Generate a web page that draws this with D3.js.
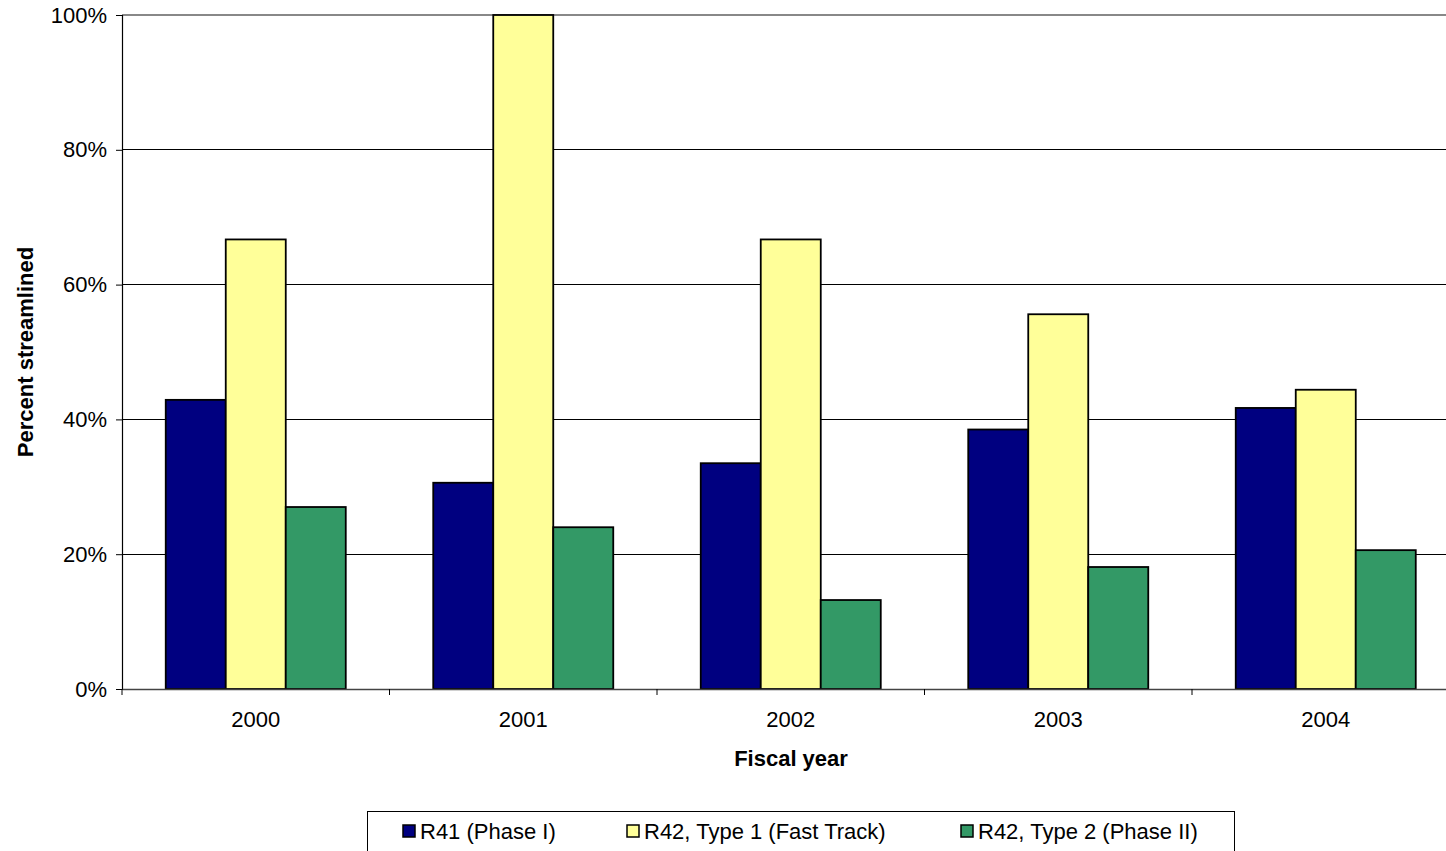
<!DOCTYPE html>
<html><head><meta charset="utf-8">
<script src="https://cdn.jsdelivr.net/npm/d3@7"></script>
<style>
html,body{margin:0;padding:0;background:#fff;overflow:hidden}
text{font-family:"Liberation Sans",Arial,sans-serif}
</style></head>
<body>
<svg id="chart" width="1446" height="851"></svg>
<script>
const years = ["2000","2001","2002","2003","2004"];
const seriesNames = ["R41 (Phase I)","R42, Type 1 (Fast Track)","R42, Type 2 (Phase II)"];
const seriesColors = ["#000080","#FFFF99","#339966"];
const r41 = [42.9, 30.6, 33.5, 38.5, 41.7];
const r42Type1 = [66.7, 100, 66.7, 55.6, 44.4];
const r42Type2 = [27.0, 24.0, 13.2, 18.1, 20.6];
const yTicks = [0,20,40,60,80,100];
const seriesValues = [r41, r42Type1, r42Type2];

(function(){
const svg = d3.select("#chart");
const FS = 22;
const mLeft = 122, mTop = 15, mBottom = 689, step = 267.5;
const x = d3.scaleBand().domain(years).range([mLeft, mLeft + step*years.length]).padding(0);
const xs = d3.scaleBand().domain(d3.range(3)).range([0, x.bandwidth()]).paddingInner(0).paddingOuter(0.729);
const y = d3.scaleLinear().domain([0,100]).range([mBottom, mTop]);

// gridlines
svg.append("g").selectAll("line").data(yTicks.filter(t=>t>0)).join("line")
  .attr("x1", mLeft).attr("x2", mLeft + step*5)
  .attr("y1", d=>y(d)).attr("y2", d=>y(d))
  .attr("stroke", d=> d===100 ? "#888" : "#000").attr("stroke-width", d=>d===100?1.5:1)
  .attr("shape-rendering","crispEdges");

// bars
const groups = svg.append("g").selectAll("g").data(years).join("g")
  .attr("transform", d=>`translate(${x(d)},0)`);
groups.selectAll("rect").data((d,i)=>seriesValues.map((s,k)=>({k, v:s[i]}))).join("rect")
  .attr("x", d=>xs(d.k)).attr("width", xs.bandwidth())
  .attr("y", d=>y(d.v)).attr("height", d=>y(0)-y(d.v))
  .attr("fill", d=>seriesColors[d.k]).attr("stroke","#000").attr("stroke-width",1.8);

// y axis
const yAxis = d3.axisLeft(y).tickValues(yTicks).tickFormat(d=>d+"%").tickSize(6).tickPadding(9);
const ya = svg.append("g").attr("transform",`translate(${mLeft},0)`).call(yAxis);
ya.select(".domain").attr("stroke","#000").attr("stroke-width",1.2);
ya.selectAll(".tick line").attr("stroke","#000");
ya.selectAll("text").attr("font-size",FS).attr("fill","#000").attr("font-family","Liberation Sans, Arial, sans-serif");

// x axis
const xAxis = d3.axisBottom(x).tickSize(0).tickPadding(22);
const xa = svg.append("g").attr("transform",`translate(0,${mBottom})`).call(xAxis);
xa.select(".domain").attr("stroke","#444").attr("stroke-width",1.5);
xa.selectAll("text").attr("font-size",FS).attr("fill","#000").attr("font-family","Liberation Sans, Arial, sans-serif");
svg.append("g").selectAll("line").data(d3.range(years.length+1)).join("line")
  .attr("x1", i=>mLeft + i*step).attr("x2", i=>mLeft + i*step)
  .attr("y1", mBottom).attr("y2", mBottom+6).attr("stroke","#000").attr("stroke-width",1);

// axis titles
svg.append("text").attr("x", 791).attr("y", 766).attr("text-anchor","middle")
  .attr("font-size",FS).attr("font-weight","bold").text("Fiscal year");
svg.append("text").attr("transform","translate(33,352) rotate(-90)").attr("text-anchor","middle")
  .attr("font-size",FS).attr("font-weight","bold").text("Percent streamlined");

// legend
svg.append("rect").attr("x",367.5).attr("y",811.5).attr("width",867).attr("height",60)
  .attr("fill","#fff").attr("stroke","#000").attr("stroke-width",1);
const legX = [403, 627, 961];
const lg = svg.append("g").selectAll("g").data(seriesNames).join("g")
  .attr("transform",(d,i)=>`translate(${legX[i]},825)`);
lg.append("rect").attr("width",12).attr("height",12).attr("fill",(d,i)=>seriesColors[i])
  .attr("stroke","#000").attr("stroke-width",1.5);
lg.append("text").attr("x",17).attr("y",13.5).attr("font-size",FS).text(d=>d);
})();
</script>
</body></html>
